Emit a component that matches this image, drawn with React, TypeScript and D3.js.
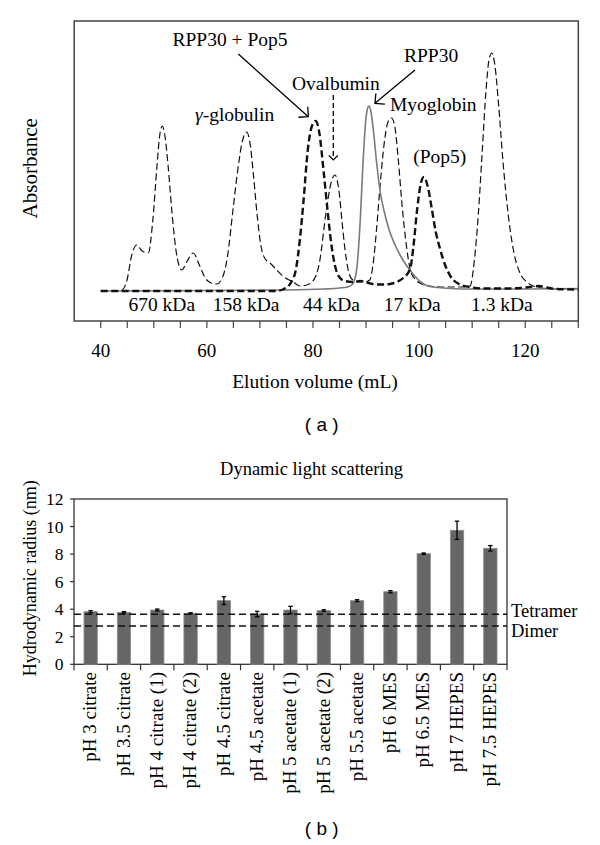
import React from "react";
import * as d3 from "d3";

// ---------- Panel (a): size-exclusion chromatography ----------
// [elution volume (mL), absorbance (arbitrary units)]
const standardsTrace: [number, number][] = [
  [40, 0], [43, 0], [44, 1], [45, 12], [45.8, 35], [46.8, 46], [47.8, 40], [48.97, 38],
  [49.8, 70], [50.6, 125], [51.1, 155], [51.6, 165], [52.1, 155], [52.7, 125], [53.4, 80],
  [54.2, 40], [55.26, 21], [56.3, 30], [57.45, 38], [58.5, 27], [59.7, 13], [60.8, 8],
  [61.86, 7], [62.9, 13], [63.9, 35], [64.9, 80], [65.8, 120], [66.7, 150], [67.5, 159],
  [68.1, 149], [68.8, 115], [69.4, 80], [70.2, 45], [71.0, 32], [71.9, 28], [73.0, 22],
  [74.5, 14], [76.3, 9], [77.55, 5], [78.8, 6], [80, 10], [81.2, 28], [82.5, 80], [83.4, 108],
  [84.15, 116], [84.9, 100], [85.5, 68], [86.0, 43], [86.6, 22], [87.3, 12], [88.5, 9],
  [89.8, 9], [90.7, 11], [91.4, 30], [92.0, 63], [92.8, 115], [93.6, 155], [94.2, 170],
  [94.8, 173], [95.4, 165], [96.1, 130], [96.8, 85], [97.66, 43], [98.3, 22], [99.2, 12],
  [100.5, 7], [102, 5], [104, 4], [106, 4], [108, 4], [109.6, 5], [110.4, 30], [111.15, 76],
  [111.9, 140], [112.6, 200], [113.2, 232], [113.7, 238], [114.3, 225], [115.0, 185],
  [115.8, 130], [116.8, 76], [117.8, 40], [119, 18], [120.3, 9], [121.5, 5], [123, 3],
  [126, 2], [130, 2],
];

const complexTrace: [number, number][] = [
  [40, 0], [60, 0], [73, 0], [74.5, 2], [75.8, 8], [76.8, 22], [77.5, 50], [78.2, 89],
  [79.0, 140], [79.8, 165], [80.5, 170], [81.2, 158], [82.0, 120], [82.7, 83], [83.5, 45],
  [84.3, 22], [85.1, 13], [86.0, 10], [87.5, 9], [88.9, 10], [90.5, 8], [92.0, 6.5],
  [93.25, 6.5], [94.5, 7], [95.8, 9], [97.0, 13], [98.3, 22], [98.9, 43], [99.6, 80],
  [100.3, 107], [100.9, 114], [101.6, 105], [102.4, 82], [103.1, 60], [103.9, 43],
  [104.9, 26], [106.0, 14], [107.5, 7], [109.6, 4], [112, 2.5], [116, 2.5], [119, 3],
  [121.5, 4.5], [122.7, 5], [124, 3.5], [126, 2], [130, 1.5],
];

const rpp30Trace: [number, number][] = [
  [40, 0], [60, 0.5], [75, 1], [82, 2], [85, 3], [86.5, 4], [87.3, 6], [87.9, 12],
  [88.4, 30], [88.9, 70], [89.4, 125], [89.9, 168], [90.3, 183], [90.55, 185], [90.9, 180],
  [91.4, 160], [92.0, 128], [92.7, 98], [93.4, 80], [94.3, 62], [95.3, 48], [96.5, 35],
  [97.7, 25], [99.0, 16], [100.3, 9], [101.7, 5], [103.5, 3.5], [106, 2.5], [110, 2],
  [120, 2], [130, 2.5],
];

const volumeTicks = [40, 45, 50, 55, 60, 65, 70, 75, 80, 85, 90, 95, 100, 105, 110, 115, 120, 125, 130];
const volumeTickLabels = [40, 60, 80, 100, 120];

const markerLabels = ["670 kDa", "158 kDa", "44 kDa", "17 kDa", "1.3 kDa"];
const markerPositions = [51.5, 67.4, 83.5, 98.7, 115.6];

const peakLabels = ["RPP30 + Pop5", "Ovalbumin", "RPP30", "Myoglobin", "(Pop5)"];
const peakLabelX = [53.53, 76.05, 97.15, 94.5, 98.9];
const peakLabelY = [245, 201, 229, 180, 128];

const arrowFrom: [number, number][] = [[65.93, 237], [83.83, 196], [99.22, 221]];
const arrowTo: [number, number][] = [[79.12, 174.3], [83.83, 131], [91.68, 187.7]];
const arrowDashed = [false, true, false];

// ---------- Panel (b): dynamic light scattering ----------
const conditions = [
  "pH 3 citrate", "pH 3.5 citrate", "pH 4 citrate (1)", "pH 4 citrate (2)", "pH 4.5 citrate",
  "pH 4.5 acetate", "pH 5 acetate (1)", "pH 5 acetate (2)", "pH 5.5 acetate", "pH 6 MES",
  "pH 6.5 MES", "pH 7 HEPES", "pH 7.5 HEPES",
];
const radius = [3.82, 3.77, 3.94, 3.7, 4.62, 3.65, 3.94, 3.9, 4.62, 5.27, 8.03, 9.73, 8.42];
const radiusErr = [0.08, 0.05, 0.07, 0.04, 0.28, 0.2, 0.27, 0.06, 0.07, 0.08, 0.05, 0.66, 0.2];
const radiusTicks = [0, 2, 4, 6, 8, 10, 12];
const refLabels = ["Tetramer", "Dimer"];
const refValues = [3.63, 2.78];

const SERIF = "'Liberation Serif', 'Times New Roman', serif";
const SANS = "'Liberation Sans', Arial, sans-serif";

export default function App() {
  // panel (a) scales
  const xA = d3.scaleLinear().domain([35, 130]).range([74.2, 578.3]);
  const yA = d3.scaleLinear().domain([-30, 270]).range([321, 21]);
  const line = d3
    .line<[number, number]>()
    .x((d) => xA(d[0]))
    .y((d) => yA(d[1]))
    .curve(d3.curveMonotoneX);

  // panel (b) scales
  const xB = d3.scaleBand<string>().domain(conditions).range([74, 507]).paddingInner(0.6).paddingOuter(0.3);
  const yB = d3.scaleLinear().domain([0, 12]).range([664.3, 499]);
  const step = xB.step();
  const boundaries = d3.range(conditions.length + 1).map((i) => 74 + i * step);

  const [a0, a1] = xA.range();
  const [yTopA, yBotA] = [yA.range()[1], yA.range()[0]];

  return (
    <svg
      width={600}
      height={845}
      style={{ position: "absolute", left: 0, top: 0, background: "#fff" }}
      fontFamily={SERIF}
    >
      <defs>
        <marker
          id="openArrow"
          viewBox="-10 -10 12 20"
          refX={0}
          refY={0}
          markerWidth={12}
          markerHeight={20}
          markerUnits="userSpaceOnUse"
          orient="auto"
        >
          <path d="M-7,-7L0,0L-7,7" fill="none" stroke="#000" strokeWidth={1.3} />
        </marker>
        <marker
          id="smallArrow"
          viewBox="-10 -10 12 20"
          refX={0}
          refY={0}
          markerWidth={12}
          markerHeight={20}
          markerUnits="userSpaceOnUse"
          orient="auto"
        >
          <path d="M-4.5,-4.5L0,0L-4.5,4.5" fill="none" stroke="#000" strokeWidth={1.2} />
        </marker>
      </defs>
      <rect x={0} y={0} width={600} height={845} fill="#fff" />

      {/* ===== Panel (a) ===== */}
      <rect x={a0} y={yTopA} width={a1 - a0} height={yBotA - yTopA} fill="none" stroke="#444" strokeWidth={1.5} />

      {volumeTicks.map((t) => (
        <line key={"vt" + t} x1={xA(t)} x2={xA(t)} y1={yBotA} y2={yBotA + 7} stroke="#444" strokeWidth={1.2} />
      ))}
      {volumeTickLabels.map((t) => (
        <text key={"vl" + t} x={xA(t)} y={357} textAnchor="middle" fontSize={19}>
          {t}
        </text>
      ))}
      <text x={315} y={388} textAnchor="middle" fontSize={19.5}>
        Elution volume (mL)
      </text>
      <text transform="translate(37.3,168.3) rotate(-90)" textAnchor="middle" fontSize={21}>
        Absorbance
      </text>

      {/* traces */}
      <path d={line(standardsTrace) || ""} fill="none" stroke="#111" strokeWidth={1.2} strokeDasharray="7,3.5" />
      <path d={line(rpp30Trace) || ""} fill="none" stroke="#7a7a7a" strokeWidth={1.6} />
      <path d={line(complexTrace) || ""} fill="none" stroke="#111" strokeWidth={2.4} strokeDasharray="7,3.5" />

      {/* marker size labels */}
      {markerLabels.map((l, i) => (
        <text key={l} x={xA(markerPositions[i])} y={yA(-20)} textAnchor="middle" fontSize={19.5}>
          {l}
        </text>
      ))}

      {/* peak annotations */}
      {peakLabels.map((l, i) => (
        <text key={l} x={xA(peakLabelX[i])} y={yA(peakLabelY[i])} fontSize={19.5}>
          {l}
        </text>
      ))}
      <text x={xA(57.77)} y={yA(170)} fontSize={19.5}>
        <tspan fontStyle="italic">γ</tspan>-globulin
      </text>
      {arrowFrom.map((f, i) => (
        <line
          key={"arr" + i}
          x1={xA(f[0])}
          y1={yA(f[1])}
          x2={xA(arrowTo[i][0])}
          y2={yA(arrowTo[i][1])}
          stroke="#000"
          strokeWidth={1.3}
          strokeDasharray={arrowDashed[i] ? "5,3" : undefined}
          markerEnd={arrowDashed[i] ? "url(#smallArrow)" : "url(#openArrow)"}
        />
      ))}

      <text x={321.7} y={431} textAnchor="middle" fontSize={19} fontFamily={SANS}>
        ( a )
      </text>

      {/* ===== Panel (b) ===== */}
      <text x={311.5} y={475} textAnchor="middle" fontSize={18.5}>
        Dynamic light scattering
      </text>
      <rect x={74} y={499} width={433} height={yB(0) - 499} fill="none" stroke="#333" strokeWidth={1.3} />

      {radiusTicks.map((t) => (
        <g key={"rt" + t}>
          <line x1={70} x2={74} y1={yB(t)} y2={yB(t)} stroke="#333" strokeWidth={1.2} />
          <text x={63.5} y={yB(t)} dy="0.34em" textAnchor="end" fontSize={17.5}>
            {t}
          </text>
        </g>
      ))}
      <text transform="translate(36,578.3) rotate(-90)" textAnchor="middle" fontSize={18}>
        Hydrodynamic radius (nm)
      </text>

      {boundaries.map((b, i) => (
        <line key={"bt" + i} x1={b} x2={b} y1={yB(0)} y2={yB(0) + 6} stroke="#333" strokeWidth={1.2} />
      ))}

      {conditions.map((c, i) => {
        const x0 = xB(c) as number;
        const w = xB.bandwidth();
        const cx = x0 + w / 2;
        return (
          <g key={c}>
            <rect x={x0} y={yB(radius[i])} width={w} height={yB(0) - yB(radius[i])} fill="#666" stroke="#8c8c8c" strokeWidth={0.8} />
            <line x1={cx} x2={cx} y1={yB(radius[i] - radiusErr[i])} y2={yB(radius[i] + radiusErr[i])} stroke="#000" strokeWidth={1.3} />
            <line x1={cx - 2.2} x2={cx + 2.2} y1={yB(radius[i] - radiusErr[i])} y2={yB(radius[i] - radiusErr[i])} stroke="#000" strokeWidth={1.3} />
            <line x1={cx - 2.2} x2={cx + 2.2} y1={yB(radius[i] + radiusErr[i])} y2={yB(radius[i] + radiusErr[i])} stroke="#000" strokeWidth={1.3} />
            <text transform={`translate(${cx},672) rotate(-90)`} dy="0.3em" textAnchor="end" fontSize={19}>
              {c}
            </text>
          </g>
        );
      })}

      {refValues.map((v, i) => (
        <g key={refLabels[i]}>
          <line x1={74} x2={507} y1={yB(v)} y2={yB(v)} stroke="#111" strokeWidth={1.5} strokeDasharray="7,4" />
          <text x={511} y={yB(v) + (i === 0 ? 2.5 : 10.5)} fontSize={18.5}>
            {refLabels[i]}
          </text>
        </g>
      ))}

      <text x={321.7} y={835} textAnchor="middle" fontSize={19} fontFamily={SANS}>
        ( b )
      </text>
    </svg>
  );
}
